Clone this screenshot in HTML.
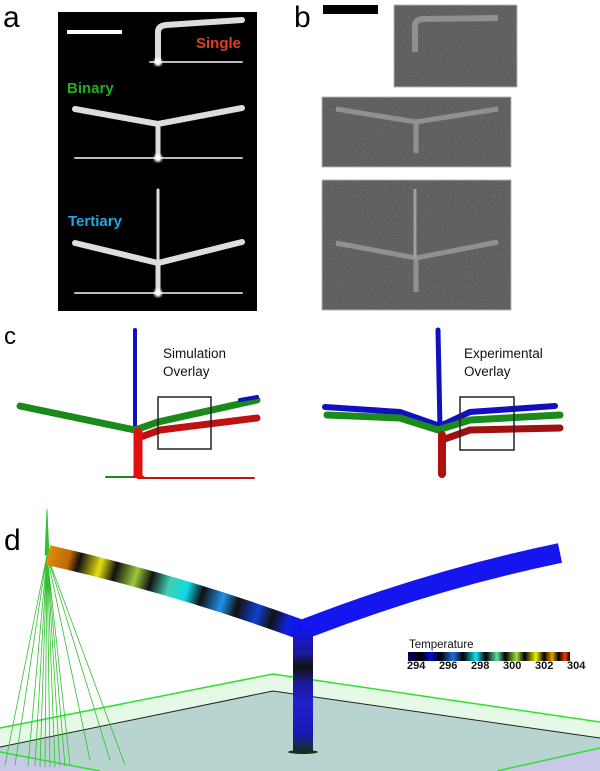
<!DOCTYPE html>
<html><head><meta charset="utf-8"><style>
html,body{margin:0;padding:0;background:#fff;}
svg{display:block;font-family:"Liberation Sans",sans-serif;}
</style></head><body>
<svg width="600" height="771" viewBox="0 0 600 771" xmlns="http://www.w3.org/2000/svg">
<defs>
<filter id="noise" x="0" y="0" width="100%" height="100%">
<feTurbulence type="fractalNoise" baseFrequency="0.9" numOctaves="2" seed="3"/>
<feColorMatrix type="matrix" values="0 0 0 0 0.25  0 0 0 0 0.25  0 0 0 0 0.25  0 0 0 0.6 0"/>
</filter>
<filter id="glow"><feGaussianBlur stdDeviation="1.2"/></filter>
<linearGradient id="armg" x1="48" y1="555" x2="302" y2="630" gradientUnits="userSpaceOnUse">
<stop offset="0" stop-color="#e08a10"/><stop offset="0.08" stop-color="#c06a00"/>
<stop offset="0.12" stop-color="#111"/><stop offset="0.2" stop-color="#e6e010"/>
<stop offset="0.26" stop-color="#111"/><stop offset="0.34" stop-color="#9cc83a"/>
<stop offset="0.4" stop-color="#111"/><stop offset="0.47" stop-color="#40d0b0"/>
<stop offset="0.54" stop-color="#10d8e8"/><stop offset="0.6" stop-color="#111"/>
<stop offset="0.68" stop-color="#2090e8"/><stop offset="0.74" stop-color="#111"/>
<stop offset="0.82" stop-color="#1040d0"/><stop offset="0.88" stop-color="#111"/>
<stop offset="0.94" stop-color="#1020e0"/><stop offset="1" stop-color="#1010f0"/>
</linearGradient>
<linearGradient id="stemg" x1="0" y1="630" x2="0" y2="752" gradientUnits="userSpaceOnUse">
<stop offset="0" stop-color="#1515e8"/><stop offset="0.2" stop-color="#1a1a90"/>
<stop offset="0.3" stop-color="#111"/><stop offset="0.45" stop-color="#1a1aa0"/>
<stop offset="0.6" stop-color="#2020d0"/><stop offset="0.85" stop-color="#1818b0"/>
<stop offset="1" stop-color="#113322"/>
</linearGradient>
<linearGradient id="cbar" x1="0" x2="1">
<stop offset="0" stop-color="#000060"/><stop offset="0.08" stop-color="#000"/><stop offset="0.14" stop-color="#0010d0"/>
<stop offset="0.2" stop-color="#000"/><stop offset="0.28" stop-color="#2070e0"/><stop offset="0.34" stop-color="#000"/>
<stop offset="0.42" stop-color="#10e0f0"/><stop offset="0.48" stop-color="#000"/><stop offset="0.55" stop-color="#60e0a0"/>
<stop offset="0.6" stop-color="#000"/><stop offset="0.67" stop-color="#a0e040"/><stop offset="0.72" stop-color="#000"/>
<stop offset="0.79" stop-color="#f0f000"/><stop offset="0.84" stop-color="#000"/><stop offset="0.89" stop-color="#f0a000"/>
<stop offset="0.93" stop-color="#000"/><stop offset="0.97" stop-color="#f04000"/><stop offset="1" stop-color="#000"/>
</linearGradient>
</defs>

<!-- panel a -->
<text x="3" y="27" font-size="30">a</text>
<rect x="58" y="12" width="199" height="299" fill="#000"/>
<rect x="67" y="30" width="55" height="4" fill="#fff"/>
<g stroke="#ddd" fill="none" stroke-linecap="round">
<path d="M158 62 V32 Q158 26 166 25 L242 20" stroke-width="6"/>
<path d="M150 62 H242" stroke-width="2" stroke="#bbb"/>
<path d="M75 109 L158 124 L242 108" stroke-width="6"/>
<path d="M158 124 V158" stroke-width="5"/>
<path d="M75 158 H242" stroke-width="2" stroke="#bbb"/>
<path d="M75 243 L158 263 L242 242" stroke-width="6"/>
<path d="M158 190 V293" stroke-width="3"/>
<path d="M158 263 V293" stroke-width="5"/>
<path d="M75 293 H242" stroke-width="2" stroke="#bbb"/>
</g>
<circle cx="158" cy="62" r="4" fill="#fff" filter="url(#glow)"/>
<circle cx="158" cy="158" r="4" fill="#fff" filter="url(#glow)"/>
<circle cx="158" cy="293" r="4" fill="#fff" filter="url(#glow)"/>
<text x="196" y="48" font-size="15" font-weight="bold" fill="#e0401a">Single</text>
<text x="67" y="93" font-size="15" font-weight="bold" fill="#20b020">Binary</text>
<text x="68" y="226" font-size="15" font-weight="bold" fill="#20a8e0">Tertiary</text>

<!-- panel b -->
<text x="294" y="27" font-size="30">b</text>
<rect x="323" y="5" width="55" height="9" fill="#000"/>
<g>
<rect x="394" y="5" width="123" height="82" fill="#505050" stroke="#bbb"/>
<rect x="394" y="5" width="123" height="82" filter="url(#noise)"/>
<path d="M415 52 V26 Q415 20 422 19 L498 18" stroke="#909090" stroke-width="6" fill="none"/>
<rect x="322" y="97" width="189" height="70" fill="#505050" stroke="#bbb"/>
<rect x="322" y="97" width="189" height="70" filter="url(#noise)"/>
<path d="M336 109 L416 122 L498 109 M416 122 V153" stroke="#909090" stroke-width="5" fill="none"/>
<rect x="322" y="180" width="189" height="130" fill="#505050" stroke="#bbb"/>
<rect x="322" y="180" width="189" height="130" filter="url(#noise)"/>
<path d="M336 243 L416 258 L498 242 M416 258 V292" stroke="#909090" stroke-width="5" fill="none"/>
<path d="M415 189 V258" stroke="#a0a0a0" stroke-width="3" fill="none"/>
</g>

<!-- panel c -->
<text x="4" y="344" font-size="24">c</text>
<g fill="none" stroke-linecap="round">
<path d="M135 330 V428" stroke="#1010c0" stroke-width="4"/>
<path d="M20 406 L135 430 L158 422 L257 400" stroke="#1a8a1a" stroke-width="7"/>
<path d="M257 397 L240 400" stroke="#1010c0" stroke-width="4"/>
<path d="M138 438 L160 430 L257 418" stroke="#c01010" stroke-width="7"/>
<path d="M138 432 V474" stroke="#e01010" stroke-width="9"/>
<path d="M106 477 H138" stroke="#1a8a1a" stroke-width="2"/>
<path d="M138 478 H254" stroke="#c01010" stroke-width="2"/>
<path d="M438 330 L440 428" stroke="#1010c0" stroke-width="5"/>
<path d="M325 407 L400 412 L440 426 L470 412 L555 406" stroke="#1010c0" stroke-width="6"/>
<path d="M327 415 L400 418 L438 430 L470 420 L560 415" stroke="#1a8a1a" stroke-width="7"/>
<path d="M442 440 L470 430 L560 428" stroke="#a01010" stroke-width="7"/>
<path d="M442 435 V474" stroke="#b01010" stroke-width="8"/>
</g>
<path d="M130 478 Q138 470 146 478 Z" fill="#e01010"/>
<rect x="158" y="397" width="53" height="52" fill="none" stroke="#222" stroke-width="1.5"/>
<rect x="460" y="397" width="54" height="53" fill="none" stroke="#222" stroke-width="1.5"/>
<text x="163" y="358" font-size="13.5" fill="#111">Simulation</text>
<text x="163" y="376" font-size="13.5" fill="#111">Overlay</text>
<text x="464" y="358" font-size="13.5" fill="#111">Experimental</text>
<text x="464" y="376" font-size="13.5" fill="#111">Overlay</text>

<!-- panel d -->
<polygon points="0,728 273,674 600,722 600,748 497,771 0,771" fill="#e6f8e6"/>
<polygon points="0,747 273,691 600,738 600,748 497,771 0,771" fill="#b8d4d0"/>
<polygon points="0,752 100,771 0,771" fill="#c8c8e8"/>
<polygon points="600,748 600,771 497,771" fill="#c8c8e8"/>
<path d="M0 728 L273 674 L600 722" stroke="#30e030" stroke-width="1.5" fill="none"/>
<path d="M0 747 L273 691 L600 738" stroke="#222" stroke-width="1" fill="none"/>
<path d="M0 752 L100 771 M497 771 L600 748" stroke="#30e030" stroke-width="1.5" fill="none"/>
<text x="4" y="550" font-size="30">d</text>
<g stroke="#30c030" stroke-width="0.8" fill="none">
<path d="M47 509 L45 555 L49 555 Z" fill="#30c030"/>
<path d="M47 555 L5 765 M47 555 L15 765 M47 555 L28 766 M47 555 L35 766 M47 555 L40 767 M47 555 L45 767 M47 555 L50 767 M47 555 L55 767 M47 555 L60 766 M47 555 L65 766 M47 555 L70 765 M47 555 L90 760 M47 555 L110 760 M47 555 L125 765"/>
</g>
<path d="M48 555 Q180 585 302 630" stroke="url(#armg)" stroke-width="20" fill="none"/>
<path d="M302 630 Q430 580 560 553" stroke="#1515f0" stroke-width="20" fill="none"/>
<rect x="293" y="630" width="20" height="122" fill="url(#stemg)"/>
<ellipse cx="303" cy="752" rx="15" ry="2" fill="#113322"/>
<text x="409" y="648" font-size="11.5" fill="#111">Temperature</text>
<rect x="408" y="652" width="162" height="9" fill="url(#cbar)"/>
<g font-size="11" font-weight="bold" fill="#111">
<text x="407" y="669">294</text><text x="439" y="669">296</text><text x="471" y="669">298</text>
<text x="503" y="669">300</text><text x="535" y="669">302</text><text x="567" y="669">304</text>
</g>
</svg>
</body></html>
